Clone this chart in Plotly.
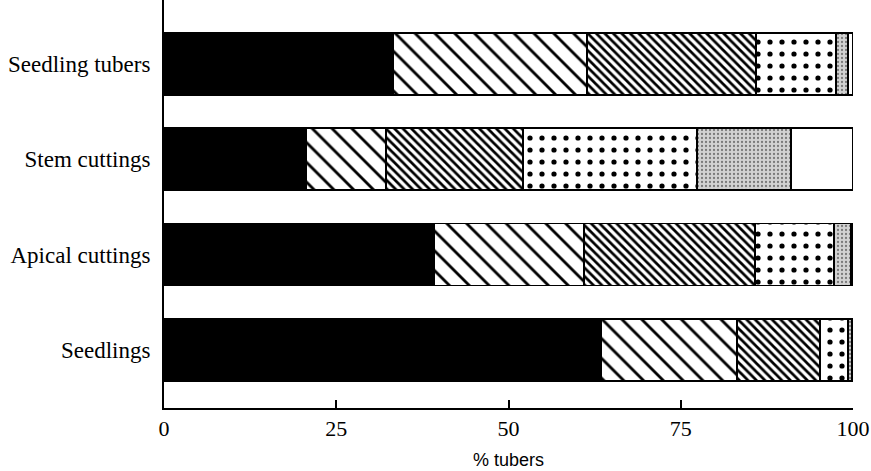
import plotly.graph_objects as go

categories = ["Seedlings", "Apical cuttings", "Stem cuttings", "Seedling tubers"]

# % tubers per class (6 classes), bottom-to-top category order
class1 = [63.4, 39.2, 20.6, 33.2]
class2 = [19.8, 21.8, 11.6, 28.2]
class3 = [12.0, 24.8, 19.9, 24.5]
class4 = [4.1, 11.4, 25.3, 11.6]
class5 = [0.6, 2.5, 13.6, 1.8]
class6 = [0.1, 0.3, 9.0, 0.7]

series = [class1, class2, class3, class4, class5, class6]
names = ["Class 1", "Class 2", "Class 3", "Class 4", "Class 5", "Class 6"]

styles = [
    dict(color="black"),
    dict(color="white", pattern=dict(shape="\\", fgcolor="black", bgcolor="white", fgopacity=1, size=14, solidity=0.2)),
    dict(color="white", pattern=dict(shape="\\", fgcolor="black", bgcolor="white", fgopacity=1, size=6, solidity=0.45)),
    dict(color="white", pattern=dict(shape=".", fgcolor="black", bgcolor="white", fgopacity=1, size=12, solidity=0.15)),
    dict(color="#c8c8c8", pattern=dict(shape=".", fgcolor="#7a7a7a", bgcolor="#d2d2d2", fgopacity=1, size=4, solidity=0.25)),
    dict(color="white"),
]

fig = go.Figure()
for name, vals, st in zip(names, series, styles):
    marker = dict(st)
    marker["line"] = dict(color="black", width=1.8)
    fig.add_trace(go.Bar(
        y=categories, x=vals, orientation="h", name=name,
        marker=marker, width=0.65, showlegend=False, hoverinfo="skip",
    ))

font_family = "Liberation Serif, Times New Roman, serif"
fig.update_layout(
    barmode="stack",
    width=871, height=471,
    margin=dict(l=164, r=18, t=0, b=63),
    paper_bgcolor="white", plot_bgcolor="white",
    font=dict(family=font_family, size=21, color="black"),
    xaxis=dict(
        range=[0, 100], tickvals=[0, 25, 50, 75, 100],
        ticks="inside", ticklen=8, tickwidth=2, tickcolor="black",
        showline=True, linecolor="black", linewidth=2,
        showgrid=False, zeroline=False,
        tickfont=dict(size=22),
    ),
    yaxis=dict(
        categoryorder="array", categoryarray=categories,
        range=[-0.61, 3.67],
        showline=True, linecolor="black", linewidth=2,
        ticks="", showgrid=False, zeroline=False,
        ticklabelstandoff=7,
        tickfont=dict(size=23),
    ),
    annotations=[dict(
        text="% tubers", xref="paper", yref="paper", x=0.5, y=-0.127,
        xanchor="center", yanchor="middle", showarrow=False,
        font=dict(size=18, family="Liberation Sans, Arial, sans-serif", color="black"),
    )],
)

fig.write_html("out.html")
